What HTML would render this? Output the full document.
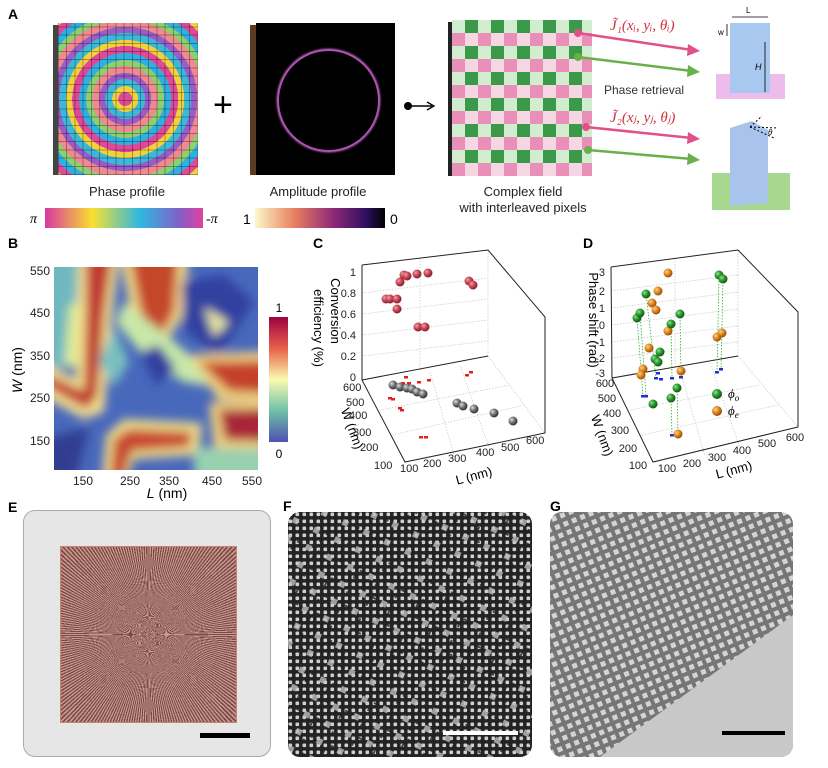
<!DOCTYPE html>
<html><head><meta charset="utf-8"><style>
body{margin:0;background:#fff;width:828px;height:768px;position:relative;overflow:hidden;font-family:"Liberation Sans",sans-serif;}
.a{position:absolute}
</style></head><body>
<div class="a" style="left:53px;top:25px;width:5px;height:150px;background:#444"></div>
<div class="a" style="left:58px;top:23px;width:140px;height:152px;background:repeating-linear-gradient(90deg,rgba(0,0,0,.3) 0 1px,transparent 1px 8.2px),repeating-linear-gradient(0deg,rgba(0,0,0,.3) 0 1px,transparent 1px 8.2px),repeating-radial-gradient(circle at 48% 50%,#e0489a 0 7px,#f2d23c 7px 13px,#3cb8d8 13px 20px,#9a5cc8 20px 26px,#f08a90 26px 33px,#8cd070 33px 39px,#30b0e0 39px 46px)"></div>
<div class="a" style="left:250px;top:25px;width:6px;height:150px;background:#5a3a22"></div>
<div class="a" style="left:256px;top:23px;width:139px;height:152px;background:#000"></div>
<div class="a" style="left:277px;top:49px;width:99px;height:99px;border-radius:50%;border:2px solid #b050b8;box-shadow:0 0 2px #e090e0"></div>
<div class="a" style="left:448px;top:22px;width:4px;height:154px;background:#222"></div>
<div class="a" style="left:452px;top:20px;width:140px;height:156px;background-image:conic-gradient(#3a9a4a 0 25%,#f6d6e2 0 50%,#e890b8 0 75%,#d2ecd0 0);background-size:26px 26px"></div>
<div class="a" style="left:23px;top:510px;width:246px;height:245px;background:#e6e6e6;border:1px solid #aaa;border-radius:12px"></div>
<div class="a" style="left:60px;top:546px;width:175px;height:175px;background:repeating-conic-gradient(from 0deg at 50% 50%,#7a4a44 0 0.8deg,#c89890 0.8deg 1.6deg);border:1px solid #d08070"></div>

<svg class="a" style="left:0;top:0" width="828" height="768" font-family="Liberation Sans, sans-serif">
<defs>
<radialGradient id="gr" cx="35%" cy="35%" r="65%"><stop offset="0" stop-color="#f0a0a8"/><stop offset=".5" stop-color="#c84858"/><stop offset="1" stop-color="#8a2030"/></radialGradient>
<radialGradient id="gg" cx="35%" cy="35%" r="65%"><stop offset="0" stop-color="#ddd"/><stop offset=".5" stop-color="#777"/><stop offset="1" stop-color="#333"/></radialGradient>
<radialGradient id="gn" cx="35%" cy="35%" r="65%"><stop offset="0" stop-color="#90e090"/><stop offset=".5" stop-color="#2a9a30"/><stop offset="1" stop-color="#105a10"/></radialGradient>
<radialGradient id="go" cx="35%" cy="35%" r="65%"><stop offset="0" stop-color="#ffd090"/><stop offset=".5" stop-color="#e08a20"/><stop offset="1" stop-color="#9a5008"/></radialGradient>
<filter id="bl" x="-10%" y="-10%" width="120%" height="120%"><feGaussianBlur stdDeviation="5"/></filter>
<clipPath id="hc"><rect width="204" height="203"/></clipPath>
<pattern id="pf" width="7" height="7" patternUnits="userSpaceOnUse"><rect width="7" height="7" fill="#232323"/><rect x="1.5" y="1.5" width="3.6" height="3.6" rx="1" fill="#d0d0d0"/></pattern>
<pattern id="pf2" width="23" height="19" patternUnits="userSpaceOnUse" patternTransform="rotate(25)"><rect x="2" y="2" width="6" height="6" fill="#bdbdbd"/><rect x="12" y="9" width="2" height="5" fill="#222"/><rect x="15" y="3" width="5" height="2" fill="#222"/></pattern>
<pattern id="pg" width="9" height="9" patternUnits="userSpaceOnUse" patternTransform="rotate(-22)"><rect width="9" height="9" fill="#767676"/><rect x="2" y="2" width="5" height="5" fill="#d4d4d4"/></pattern>
<clipPath id="cf"><rect x="288" y="512" width="244" height="245" rx="12"/></clipPath>
<clipPath id="cg"><rect x="550" y="512" width="243" height="245" rx="12"/></clipPath>
<linearGradient id="ph"><stop offset="0" stop-color="#d838a0"/><stop offset=".3" stop-color="#f8e030"/><stop offset=".6" stop-color="#30b8e0"/><stop offset=".85" stop-color="#8060c8"/><stop offset="1" stop-color="#e040a0"/></linearGradient>
<linearGradient id="am"><stop offset="0" stop-color="#fcf8c8"/><stop offset=".3" stop-color="#e88060"/><stop offset=".6" stop-color="#902878"/><stop offset=".85" stop-color="#301060"/><stop offset="1" stop-color="#000"/></linearGradient>
<linearGradient id="hb" x1="0" y1="0" x2="0" y2="1"><stop offset="0" stop-color="#9e0142"/><stop offset=".25" stop-color="#e8604a"/><stop offset=".5" stop-color="#fafab0"/><stop offset=".75" stop-color="#70c0a8"/><stop offset="1" stop-color="#5050b0"/></linearGradient>
</defs>
<g font-weight="bold" font-size="14"><text x="8" y="19">A</text><text x="8" y="248">B</text><text x="313" y="248">C</text><text x="583" y="248">D</text><text x="8" y="512">E</text><text x="283" y="511">F</text><text x="550" y="511">G</text></g>

<text x="213" y="116" font-size="34">+</text>
<circle cx="408" cy="106" r="4"/><line x1="408" y1="106" x2="432" y2="106" stroke="#000" stroke-width="1.5"/><path d="M427 102 L434 106 L427 110" fill="none" stroke="#000" stroke-width="1.3"/>

<g stroke-width="2.5"><line x1="578" y1="33" x2="692" y2="50" stroke="#e0508a"/><line x1="578" y1="57" x2="692" y2="71" stroke="#6ab04a"/><line x1="586" y1="127" x2="692" y2="138" stroke="#e0508a"/><line x1="588" y1="150" x2="692" y2="159" stroke="#6ab04a"/></g>
<path d="M688 44 L700 51 L687 56Z" fill="#e0508a"/><path d="M688 65 L700 72 L687 77Z" fill="#6ab04a"/><path d="M688 132 L700 139 L687 144Z" fill="#e0508a"/><path d="M688 153 L700 160 L687 165Z" fill="#6ab04a"/>
<circle cx="578" cy="33" r="4" fill="#e0508a"/><circle cx="578" cy="57" r="4" fill="#6ab04a"/><circle cx="586" cy="127" r="4" fill="#e0508a"/><circle cx="588" cy="150" r="4" fill="#6ab04a"/>
<g fill="#d03040" font-family="Liberation Serif, serif" font-style="italic" font-size="15"><text x="610" y="30">J̃₁(xᵢ, yᵢ, θᵢ)</text><text x="610" y="122">J̃₂(xⱼ, yⱼ, θⱼ)</text></g>
<text x="604" y="94" font-size="12" fill="#333">Phase retrieval</text>
<rect x="716" y="74" width="69" height="25" fill="#eebcec"/>
<rect x="730" y="23" width="40" height="70" fill="#a8c8f0"/>
<line x1="732" y1="17" x2="768" y2="17" stroke="#000" stroke-width=".8"/><line x1="727" y1="24" x2="727" y2="36" stroke="#000" stroke-width=".8"/><line x1="765" y1="42" x2="765" y2="92" stroke="#000" stroke-width=".8"/>
<text x="746" y="13" font-size="8">L</text><text x="718" y="35" font-size="8">w</text><text x="755" y="70" font-size="9" font-style="italic">H</text>
<rect x="712" y="173" width="78" height="37" fill="#a8d890"/>
<path d="M730 128 L752 121 L768 130 L768 203 L730 206Z" fill="#a8c4ec"/>
<g stroke="#000" stroke-dasharray="2 2" fill="none"><line x1="750" y1="127" x2="762" y2="116"/><line x1="750" y1="127" x2="778" y2="128"/><line x1="750" y1="127" x2="774" y2="138"/></g>
<text x="768" y="135" font-size="8" font-style="italic">θ</text>

<g font-size="13" fill="#222"><text x="127" y="196" text-anchor="middle">Phase profile</text><text x="318" y="196" text-anchor="middle">Amplitude profile</text>
<text x="523" y="196" text-anchor="middle">Complex field</text><text x="523" y="212" text-anchor="middle">with interleaved pixels</text></g>
<rect x="45" y="208" width="158" height="20" fill="url(#ph)"/><rect x="255" y="208" width="130" height="20" fill="url(#am)"/>
<g font-size="14" font-family="Liberation Serif, serif" font-style="italic"><text x="30" y="223">π</text><text x="206" y="223">-π</text></g>
<text x="243" y="224" font-size="14">1</text><text x="390" y="224" font-size="14">0</text>

<g transform="translate(54 267)" clip-path="url(#hc)">
<rect width="204" height="203" fill="#4868bc"/>
<g filter="url(#bl)">
<path d="M-10 -10 L35 -10 L30 100 L-10 100Z" fill="#70b8c0"/>
<path d="M15 40 L30 30 L30 100 L10 100Z" fill="#d8ec98"/>
<path d="M25 -10 L65 -10 L58 50 L50 145 L30 152 L-10 130 L-10 95 L22 112 L22 60Z" fill="#f4e090"/>
<path d="M32 -10 L58 -10 L50 48 L43 130 L32 142 L-10 118 L-10 106 L30 124 L32 50Z" fill="#c03a30"/>
<path d="M66 -10 L135 -10 L128 50 L100 95 L78 50Z" fill="#f0d888"/>
<path d="M76 -10 L124 -10 L120 45 L100 82 L86 40Z" fill="#c4462c"/>
<path d="M62 55 L90 90 L130 115 L214 128 L214 108 L140 92 L115 70 L95 55 L70 35Z" fill="#c8e8a8"/>
<path d="M60 60 L75 95 L60 120 L45 95Z" fill="#78c0c0"/>
<path d="M86 85 L105 78 L122 102 L102 118Z" fill="#3040a0"/>
<path d="M128 15 L170 8 L200 35 L165 90 L130 62Z" fill="#3040a0"/>
<path d="M150 40 L175 55 L160 70Z" fill="#e8e8a0"/>
<path d="M135 88 L214 84 L214 134 L165 134Z" fill="#f0d080"/>
<path d="M145 95 L214 94 L214 126 L175 124Z" fill="#c4402c"/>
<path d="M155 136 L214 134 L214 182 L160 182Z" fill="#f0d080"/>
<path d="M165 143 L214 142 L214 174 L171 173Z" fill="#a82838"/>
<path d="M48 213 L52 168 L70 152 L148 156 L145 188 L80 192 L72 213Z" fill="#eedc88"/>
<path d="M56 213 L60 172 L75 162 L138 165 L135 180 L78 184 L68 213Z" fill="#c84830"/>
<path d="M140 180 L214 182 L214 213 L140 213Z" fill="#98d0b0"/>
<path d="M-10 172 L35 160 L22 213 L-10 213Z" fill="#303c90"/>
</g></g>
<g font-size="12" fill="#222" text-anchor="end"><text x="50" y="275">550</text><text x="50" y="317">450</text><text x="50" y="360">350</text><text x="50" y="402">250</text><text x="50" y="445">150</text></g>
<g font-size="12" fill="#222" text-anchor="middle"><text x="83" y="485">150</text><text x="130" y="485">250</text><text x="169" y="485">350</text><text x="212" y="485">450</text><text x="252" y="485">550</text></g>
<text x="167" y="498" font-size="14" text-anchor="middle"><tspan font-style="italic">L</tspan> (nm)</text>
<text transform="translate(22 370) rotate(-90)" font-size="14" text-anchor="middle"><tspan font-style="italic">W</tspan> (nm)</text>
<rect x="269" y="317" width="19" height="125" fill="url(#hb)"/>
<text x="279" y="312" font-size="12" text-anchor="middle">1</text><text x="279" y="458" font-size="12" text-anchor="middle">0</text>

<g stroke="#ccc" stroke-dasharray="1.5 1.5" fill="none" stroke-width=".8">
<line x1="362" y1="293" x2="488" y2="278"/><line x1="362" y1="314" x2="488" y2="299"/><line x1="362" y1="335" x2="488" y2="320"/><line x1="362" y1="356" x2="488" y2="341"/>
<line x1="488" y1="250" x2="488" y2="356"/><line x1="420" y1="258" x2="420" y2="370"/>
<line x1="488" y1="356" x2="545" y2="433"/><line x1="380" y1="410" x2="510" y2="385"/><line x1="392" y1="435" x2="525" y2="405"/><line x1="430" y1="372" x2="455" y2="458"/><line x1="460" y1="366" x2="490" y2="450"/>
</g>
<g stroke="#222" fill="none"><path d="M362 265 L362 380 L405 462 L545 433 L545 317 L488 250 L362 265"/><path d="M362 380 L488 356"/></g>
<g font-size="11" fill="#222" text-anchor="end"><text x="356" y="276">1</text><text x="356" y="297">0.8</text><text x="356" y="318">0.6</text><text x="356" y="339">0.4</text><text x="356" y="360">0.2</text><text x="356" y="381">0</text></g>
<g font-size="11" fill="#222"><text x="343" y="391">600</text><text x="346" y="406">500</text><text x="349" y="419">400</text><text x="353" y="436">300</text><text x="360" y="451">200</text><text x="374" y="469">100</text>
<text x="400" y="472">100</text><text x="423" y="467">200</text><text x="448" y="462">300</text><text x="476" y="456">400</text><text x="501" y="451">500</text><text x="526" y="444">600</text></g>
<text transform="translate(331 311) rotate(90)" font-size="13" text-anchor="middle">Conversion</text>
<text transform="translate(314 328) rotate(90)" font-size="13" text-anchor="middle">efficiency (%)</text>
<text transform="translate(348 430) rotate(70)" font-size="13" text-anchor="middle">W (nm)</text>
<text transform="translate(475 480) rotate(-15)" font-size="13" text-anchor="middle">L (nm)</text>
<g fill="#e02020"><rect x="404" y="376" width="4" height="2.5"/><rect x="401" y="382" width="4" height="2.5"/><rect x="407" y="382" width="4" height="2.5"/><rect x="417" y="381" width="4" height="2.5"/><rect x="427" y="379" width="4" height="2.5"/><rect x="388" y="397" width="4" height="2.5"/><rect x="391" y="398" width="4" height="2.5"/><rect x="398" y="407" width="4" height="2.5"/><rect x="400" y="409" width="4" height="2.5"/><rect x="419" y="436" width="4" height="2.5"/><rect x="424" y="436" width="4" height="2.5"/><rect x="465" y="374" width="4" height="2.5"/><rect x="469" y="371" width="4" height="2.5"/></g>
<g fill="url(#gg)"><circle cx="393" cy="385" r="4.5"/><circle cx="400" cy="387" r="4.5"/><circle cx="407" cy="388" r="4.5"/><circle cx="412" cy="389" r="4.5"/><circle cx="417" cy="392" r="4.5"/><circle cx="423" cy="394" r="4.5"/><circle cx="457" cy="403" r="4.5"/><circle cx="463" cy="406" r="4.5"/><circle cx="474" cy="409" r="4.5"/><circle cx="494" cy="413" r="4.5"/><circle cx="513" cy="421" r="4.5"/></g>
<g fill="url(#gr)"><circle cx="386" cy="299" r="4.5"/><circle cx="390" cy="299" r="4.5"/><circle cx="397" cy="299" r="4.5"/><circle cx="397" cy="309" r="4.5"/><circle cx="400" cy="282" r="4.5"/><circle cx="404" cy="275" r="4.5"/><circle cx="407" cy="276" r="4.5"/><circle cx="417" cy="274" r="4.5"/><circle cx="428" cy="273" r="4.5"/><circle cx="469" cy="281" r="4.5"/><circle cx="473" cy="285" r="4.5"/><circle cx="418" cy="327" r="4.5"/><circle cx="425" cy="327" r="4.5"/></g>

<g stroke="#ccc" stroke-dasharray="1.5 1.5" fill="none" stroke-width=".8">
<line x1="611" y1="291" x2="738" y2="275"/><line x1="611" y1="308" x2="738" y2="292"/><line x1="611" y1="325" x2="738" y2="309"/><line x1="611" y1="342" x2="738" y2="326"/><line x1="611" y1="358" x2="738" y2="342"/>
<line x1="738" y1="250" x2="738" y2="356"/><line x1="675" y1="258" x2="675" y2="368"/>
<line x1="738" y1="356" x2="798" y2="427"/><line x1="630" y1="410" x2="760" y2="385"/><line x1="642" y1="435" x2="778" y2="405"/><line x1="680" y1="370" x2="705" y2="456"/><line x1="710" y1="363" x2="740" y2="448"/>
</g>
<g stroke="#222" fill="none"><path d="M611 267 L612 378 L653 462 L798 427 L798 312 L738 250 L611 267"/><path d="M612 378 L738 356"/></g>
<g font-size="11" fill="#222" text-anchor="end"><text x="605" y="276">3</text><text x="605" y="295">2</text><text x="605" y="312">1</text><text x="605" y="329">0</text><text x="605" y="346">-1</text><text x="605" y="362">-2</text><text x="605" y="377">-3</text></g>
<g font-size="11" fill="#222" text-anchor="middle"><text x="605" y="387">600</text><text x="607" y="402">500</text><text x="612" y="417">400</text><text x="620" y="434">300</text><text x="628" y="452">200</text><text x="638" y="469">100</text>
<text x="667" y="472">100</text><text x="692" y="467">200</text><text x="717" y="461">300</text><text x="742" y="454">400</text><text x="767" y="447">500</text><text x="795" y="441">600</text></g>
<text transform="translate(589 320) rotate(90)" font-size="13" text-anchor="middle">Phase shift (rad)</text>
<text transform="translate(598 437) rotate(70)" font-size="13" text-anchor="middle">W (nm)</text>
<text transform="translate(735 474) rotate(-15)" font-size="13" text-anchor="middle">L (nm)</text>
<g stroke="#3a3" stroke-dasharray="1.5 1.5" stroke-width=".8"><line x1="637" y1="318" x2="643" y2="396"/><line x1="640" y1="313" x2="646" y2="396"/><line x1="646" y1="294" x2="656" y2="378"/><line x1="671" y1="324" x2="672" y2="378"/><line x1="680" y1="314" x2="681" y2="377"/><line x1="719" y1="275" x2="717" y2="372"/><line x1="723" y1="279" x2="721" y2="369"/><line x1="677" y1="388" x2="678" y2="434"/><line x1="671" y1="398" x2="672" y2="435"/></g>
<g fill="#2030d0"><rect x="641" y="395" width="4" height="2.5"/><rect x="644" y="395" width="4" height="2.5"/><rect x="654" y="377" width="4" height="2.5"/><rect x="659" y="378" width="4" height="2.5"/><rect x="656" y="372" width="4" height="2.5"/><rect x="670" y="377" width="4" height="2.5"/><rect x="679" y="376" width="4" height="2.5"/><rect x="715" y="371" width="4" height="2.5"/><rect x="719" y="368" width="4" height="2.5"/><rect x="670" y="434" width="4" height="2.5"/></g>
<g fill="url(#go)"><circle cx="668" cy="273" r="4.5"/><circle cx="658" cy="291" r="4.5"/><circle cx="652" cy="303" r="4.5"/><circle cx="656" cy="310" r="4.5"/><circle cx="668" cy="331" r="4.5"/><circle cx="649" cy="348" r="4.5"/><circle cx="643" cy="369" r="4.5"/><circle cx="641" cy="375" r="4.5"/><circle cx="681" cy="371" r="4.5"/><circle cx="717" cy="337" r="4.5"/><circle cx="722" cy="333" r="4.5"/><circle cx="678" cy="434" r="4.5"/></g>
<g fill="url(#gn)"><circle cx="637" cy="318" r="4.5"/><circle cx="640" cy="313" r="4.5"/><circle cx="646" cy="294" r="4.5"/><circle cx="671" cy="324" r="4.5"/><circle cx="680" cy="314" r="4.5"/><circle cx="660" cy="352" r="4.5"/><circle cx="655" cy="359" r="4.5"/><circle cx="658" cy="362" r="4.5"/><circle cx="719" cy="275" r="4.5"/><circle cx="723" cy="279" r="4.5"/><circle cx="677" cy="388" r="4.5"/><circle cx="671" cy="398" r="4.5"/><circle cx="653" cy="404" r="4.5"/></g>
<circle cx="717" cy="394" r="5" fill="url(#gn)"/><text x="728" y="398" font-size="13" font-style="italic" font-family="Liberation Serif, serif">ϕ<tspan font-size="9" dy="3">o</tspan></text>
<circle cx="717" cy="411" r="5" fill="url(#go)"/><text x="728" y="415" font-size="13" font-style="italic" font-family="Liberation Serif, serif">ϕ<tspan font-size="9" dy="3">e</tspan></text>

<rect x="200" y="733" width="50" height="5" fill="#000"/>
<g clip-path="url(#cf)"><rect x="288" y="512" width="244" height="245" fill="url(#pf)"/><rect x="288" y="512" width="244" height="245" fill="url(#pf2)" opacity=".8"/></g>
<rect x="443" y="731" width="75" height="4" fill="#fff"/>
<g clip-path="url(#cg)"><rect x="550" y="512" width="243" height="245" fill="url(#pg)"/><path d="M600 757 L793 615 L793 757Z" fill="#c8c8c8"/></g>
<rect x="722" y="731" width="63" height="4" fill="#000"/>
</svg>
</body></html>
